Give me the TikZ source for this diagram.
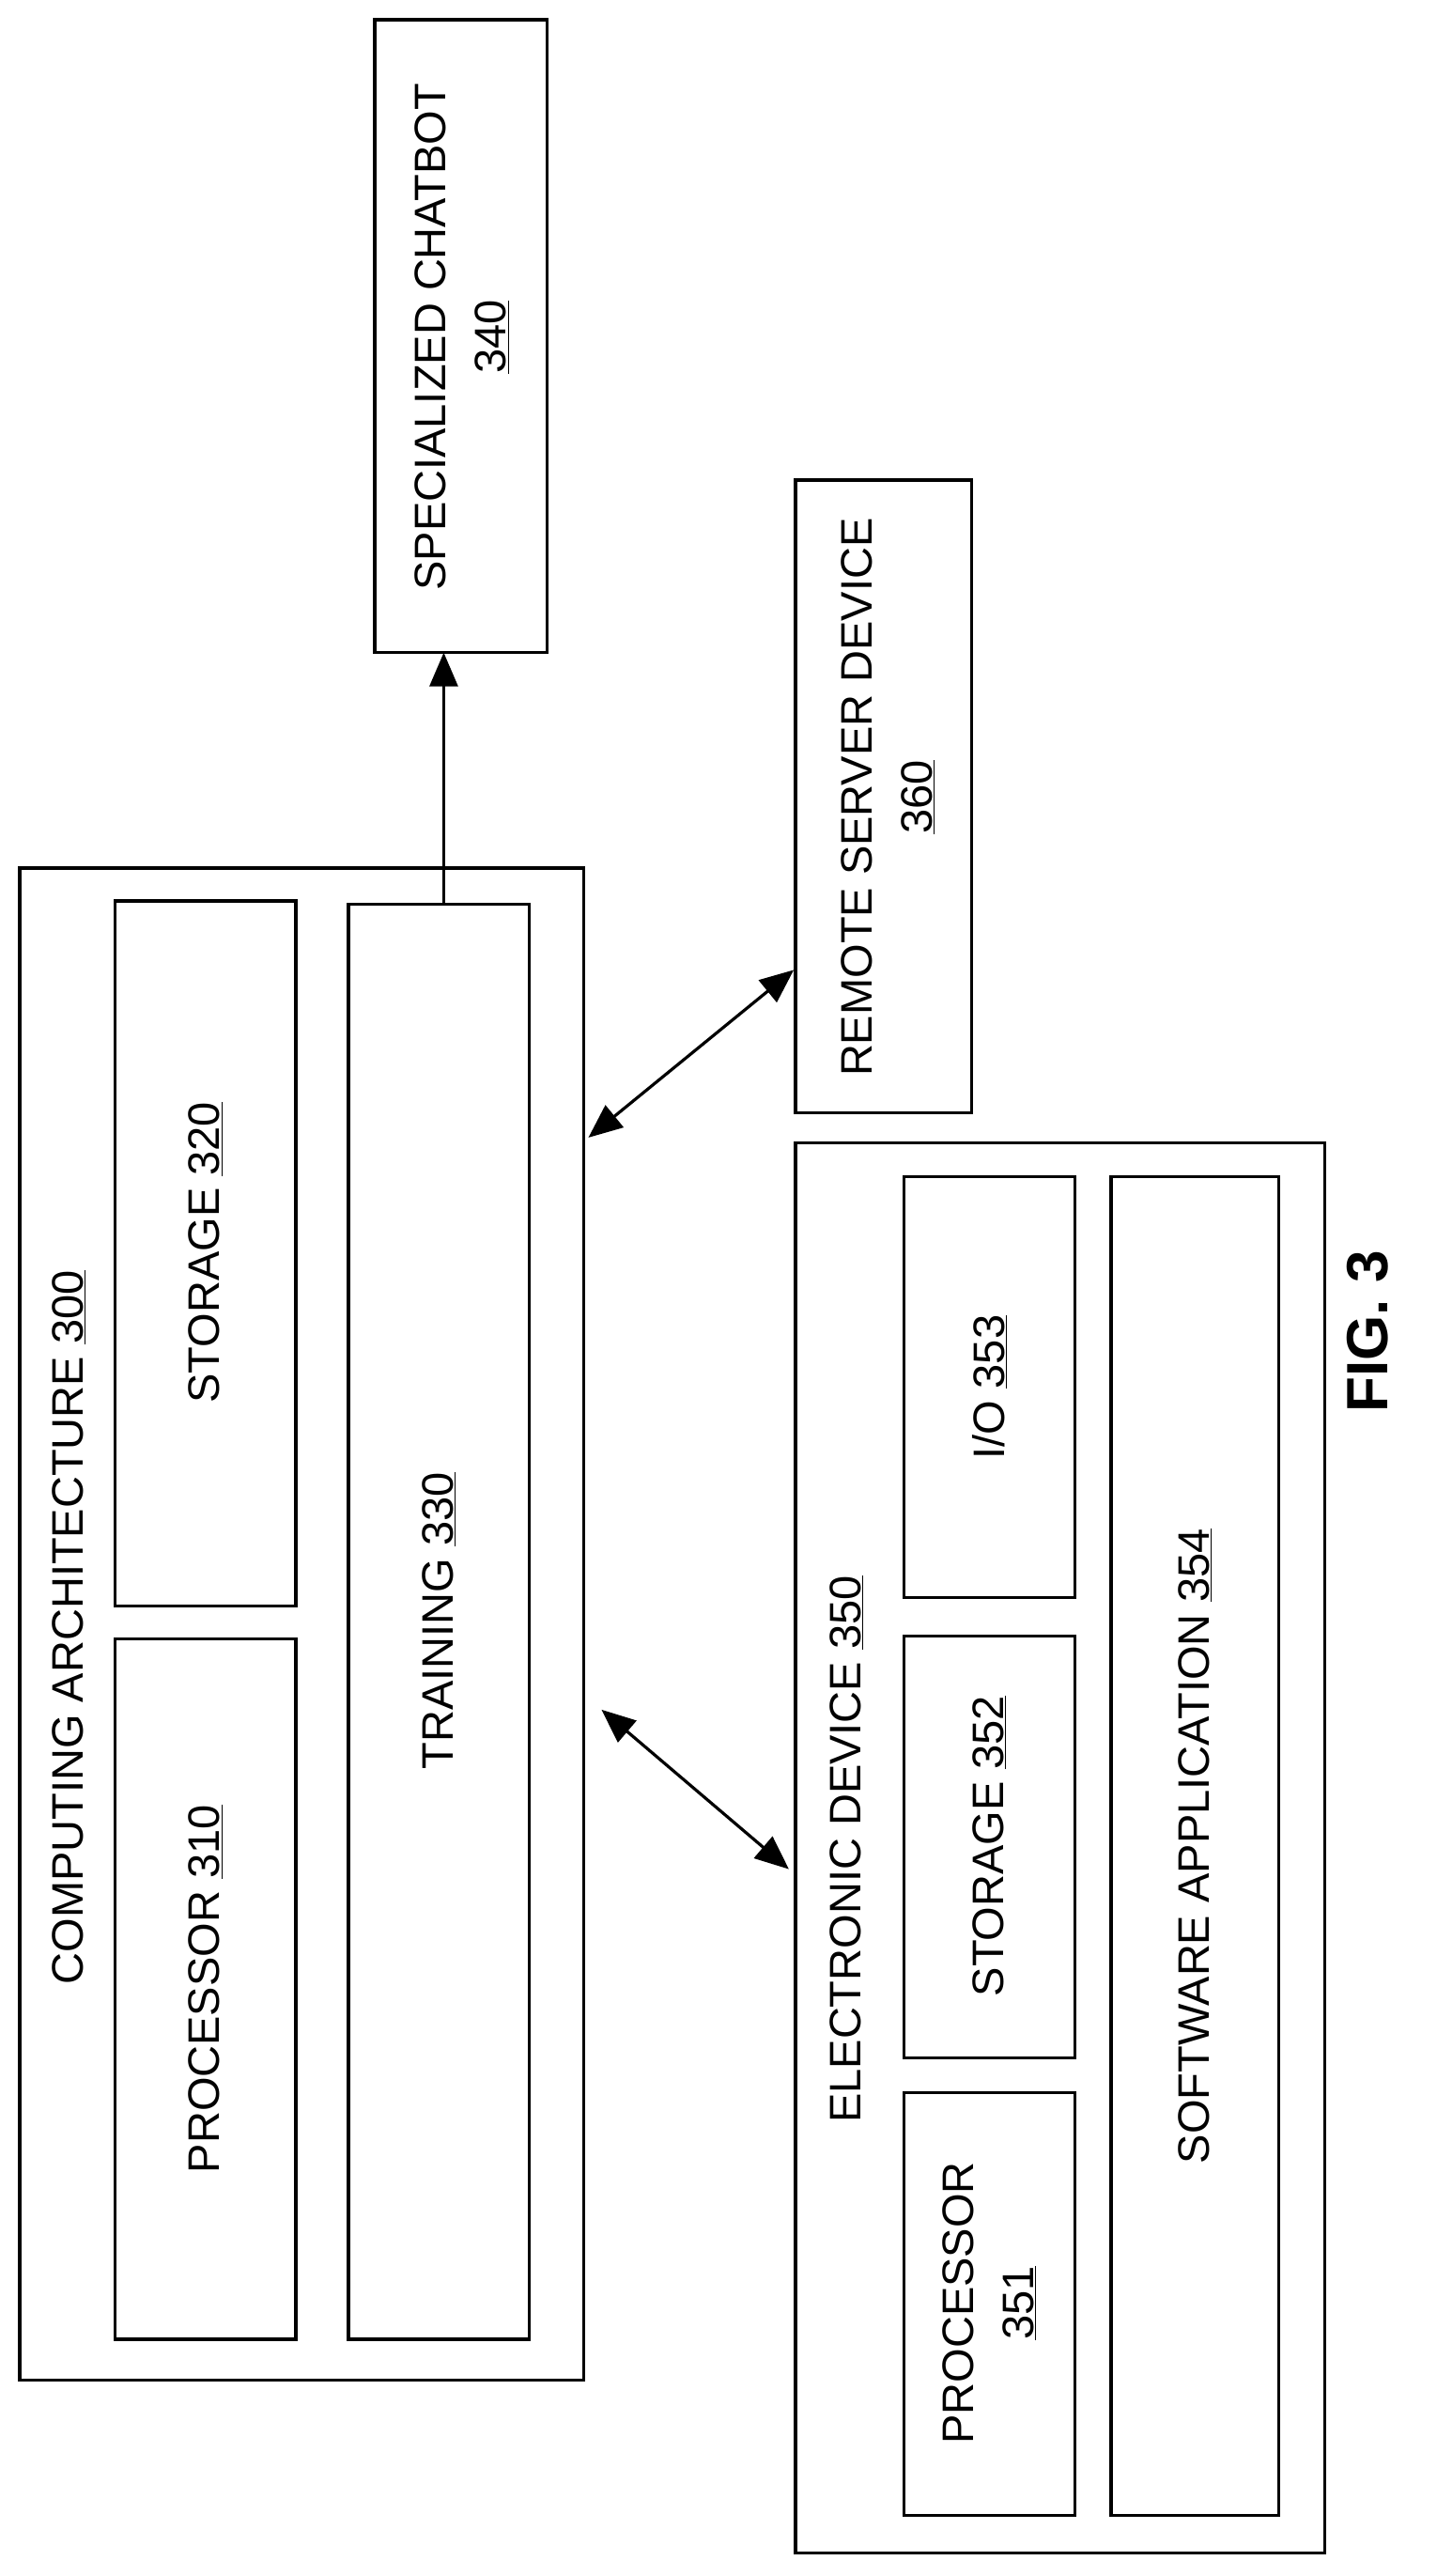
\documentclass[tikz,border=0pt]{standalone}
\usepackage{fontspec}
\setmainfont{Liberation Sans}
\usetikzlibrary{arrows.meta}
\begin{document}
\begin{tikzpicture}[x=1.75pt,y=-1.75pt,
  bx/.style={draw,line width=3.2pt},
  lab/.style={rotate=90,font=\fontsize{47}{64}\selectfont,align=center,inner sep=0},
  ar/.style={line width=3.2pt,-{Triangle[length=36pt,width=30pt]}},
  dar/.style={line width=3.2pt,{Triangle[length=36pt,width=30pt]}-{Triangle[length=36pt,width=30pt]}}]
\useasboundingbox (0,0) rectangle (874,1567);
% computing architecture
\draw[bx] (12,528) rectangle (355,1448);
\node[lab] (ca) at (42,990) {COMPUTING ARCHITECTURE \underline{300}};
\draw[bx] (70,548) rectangle (180,977);
\node[lab] (st) at (125,762) {STORAGE \underline{320}};
\draw[bx] (70,997) rectangle (180,1423);
\node[lab] (pr) at (125,1210) {PROCESSOR \underline{310}};
\draw[bx] (212,550) rectangle (322,1423);
\coordinate (trtop) at (270,550);
\node[lab] (tr) at (267,986) {TRAINING \underline{330}};
% chatbot
\draw[bx] (228,12) rectangle (333,397);
\coordinate (cbbot) at (270,397);
\node[lab] (cb) at (281,205) {SPECIALIZED CHATBOT\\\underline{340}};
\draw[ar] (trtop) -- (cbbot);
% remote server
\draw[bx] (484,292) rectangle (591,677);
\node[lab] (rs) at (540,485) {REMOTE SERVER DEVICE\\\underline{360}};
\coordinate (a1) at (358,692); \coordinate (a2) at (483,590);
\draw[dar] (a1) -- (a2);
% electronic device
\draw[bx] (484,695) rectangle (806,1553);
\node[lab] (ed) at (515,1125) {ELECTRONIC DEVICE \underline{350}};
\draw[bx] (550,716) rectangle (654,972);
\node[lab] (io) at (602,844) {I/O \underline{353}};
\draw[bx] (550,995) rectangle (654,1252);
\node[lab] (s2) at (602,1123) {STORAGE \underline{352}};
\draw[bx] (550,1273) rectangle (654,1530);
\node[lab] (p2) at (602,1401) {PROCESSOR\\\underline{351}};
\draw[bx] (676,716) rectangle (778,1530);
\node[lab] (sa) at (727,1123) {SOFTWARE APPLICATION \underline{354}};
\coordinate (b1) at (366,1040); \coordinate (b2) at (480,1137);
\draw[dar] (b1) -- (b2);
\node[lab,font=\fontsize{62}{70}\selectfont\bfseries] (fig) at (832,810) {FIG. 3};
\end{tikzpicture}
\end{document}
